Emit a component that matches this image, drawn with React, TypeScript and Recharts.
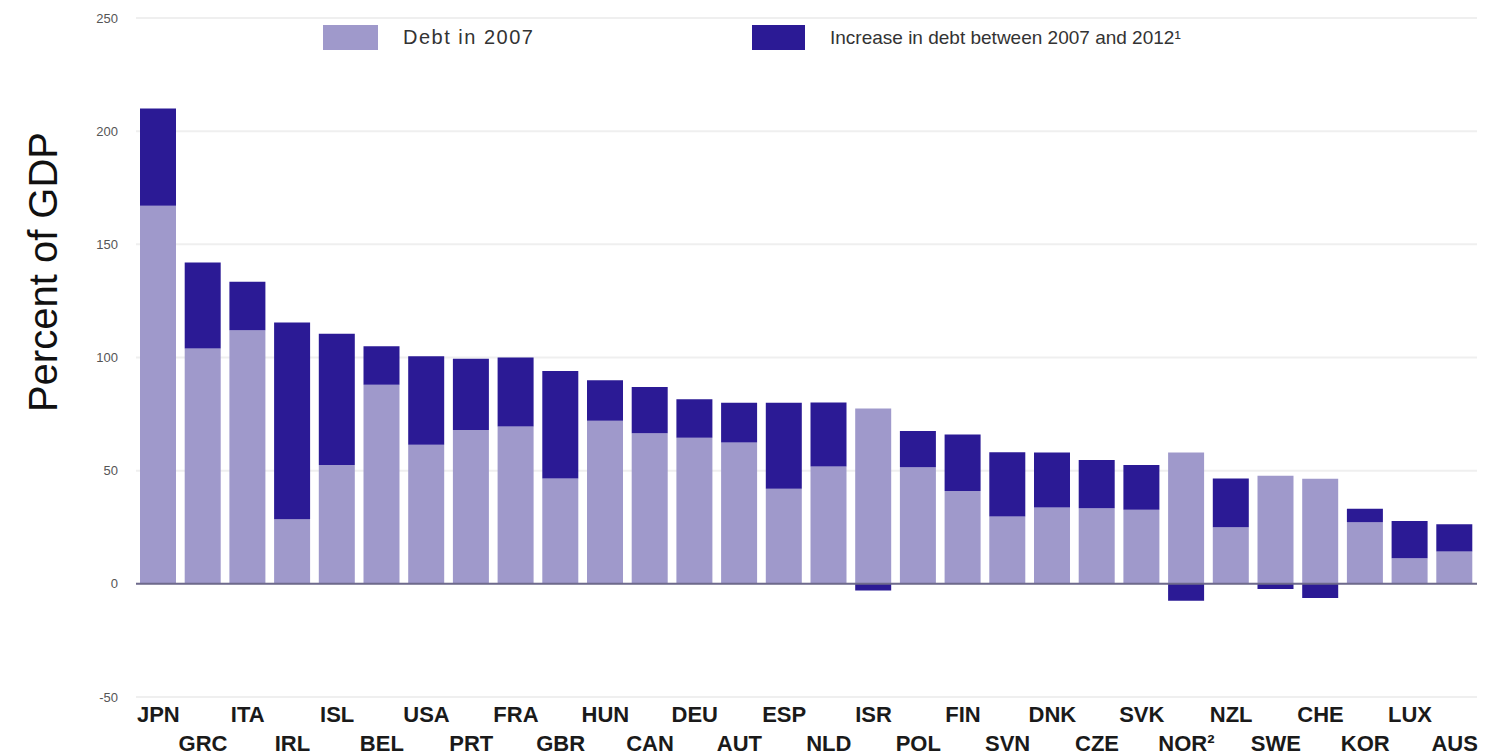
import { BarChart, Bar, XAxis, YAxis, CartesianGrid, ReferenceLine } from "recharts"

// OECD countries, sorted by gross debt in 2012
const countries = [
    "JPN", "GRC", "ITA", "IRL", "ISL", "BEL", "USA", "PRT", "FRA", "GBR",
    "HUN", "CAN", "DEU", "AUT", "ESP", "NLD", "ISR", "POL", "FIN", "SVN",
    "DNK", "CZE", "SVK", "NOR²", "NZL", "SWE", "CHE", "KOR", "LUX", "AUS",
]

const debt2007 = [
    167, 104, 112, 28.5, 52.5, 88, 61.5, 68, 69.5, 46.5,
    72, 66.5, 64.5, 62.5, 42, 51.8, 77.5, 51.5, 41, 29.7,
    33.7, 33.4, 32.7, 58, 25, 47.7, 46.4, 27.2, 11.3, 14.3,
]

const increase = [
    43, 38, 21.5, 87, 58, 17, 39, 31.5, 30.5, 47.5,
    18, 20.5, 17, 17.5, 38, 28.3, -3, 16, 25, 28.4,
    24.3, 21.3, 19.8, -7.5, 21.5, -2.3, -6.3, 6, 16.5, 12,
]

const yTicks = [-50, 0, 50, 100, 150, 200, 250]

const LIGHT = "#9f99cb"
const DARK = "#2b1a95"

const chartData = countries.map((c, i) => ({
    country: c,
    debt2007: debt2007[i],
    increase: increase[i],
}))

// labels alternate between two rows
const CountryTick = ({ x, y, payload, index }: any) => {
    const lower = index % 2 === 1
    return (
        <text
            x={x}
            y={y + (lower ? 54 : 25)}
            textAnchor="middle"
            fontFamily="'Liberation Sans', Arial, sans-serif"
            fontWeight="bold"
            fontSize={22}
            fill="#1a1a1a"
        >
            {payload.value}
        </text>
    )
}

export default function App() {
    return (
        <div style={{ position: "relative", width: 1485, height: 748, fontFamily: "'Liberation Sans', Arial, sans-serif" }}>
            <BarChart
                width={1485}
                height={748}
                data={chartData}
                stackOffset="sign"
                barSize={36}
                margin={{ top: 10, right: 16, left: 68, bottom: 0 }}
            >
                <CartesianGrid vertical={false} stroke="#efefef" strokeWidth={2} />
                <XAxis
                    dataKey="country"
                    axisLine={false}
                    tickLine={false}
                    tickSize={0}
                    tickMargin={0}
                    interval={0}
                    height={59}
                    tick={<CountryTick />}
                />
                <YAxis
                    domain={[-50, 250]}
                    ticks={yTicks}
                    axisLine={false}
                    tickLine={false}
                    tickSize={0}
                    tickMargin={18}
                    width={60}
                    tick={{ fontSize: 13, fill: "#555" }}
                />
                <Bar dataKey="debt2007" stackId="a" fill={LIGHT} isAnimationActive={false} />
                <Bar dataKey="increase" stackId="a" fill={DARK} isAnimationActive={false} />
                <ReferenceLine y={0} stroke="#6e6a8c" strokeWidth={2} />
            </BarChart>

            {/* legend */}
            <div style={{ position: "absolute", left: 315, top: 17, width: 55, height: 25, background: LIGHT }} />
            <div style={{ position: "absolute", left: 395, top: 17, height: 25, lineHeight: "25px", fontSize: 20, letterSpacing: 1.5, color: "#333" }}>
                Debt in 2007
            </div>
            <div style={{ position: "absolute", left: 744, top: 17, width: 53, height: 25, background: DARK }} />
            <div style={{ position: "absolute", left: 822, top: 17, height: 25, lineHeight: "25px", fontSize: 19, color: "#333", whiteSpace: "nowrap" }}>
                Increase in debt between 2007 and 2012¹
            </div>

            {/* y axis title */}
            <div
                style={{
                    position: "absolute",
                    left: 35,
                    top: 264,
                    transform: "translate(-50%, -50%) rotate(-90deg)",
                    fontSize: 40,
                    color: "#111",
                    whiteSpace: "nowrap",
                }}
            >
                Percent of GDP
            </div>
        </div>
    )
}
